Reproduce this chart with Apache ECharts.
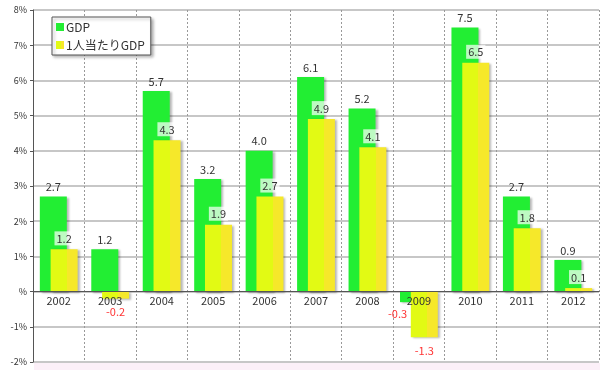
<!DOCTYPE html>
<html><head><meta charset="utf-8">
<script src="https://cdn.jsdelivr.net/npm/echarts@6/dist/echarts.min.js"></script>
<style>html,body{margin:0;padding:0;background:#fff}#c{width:600px;height:370px}</style>
</head><body><div id="c"></div>
<script>
const years = ['2002','2003','2004','2005','2006','2007','2008','2009','2010','2011','2012'];
const gdp = [2.7, 1.2, 5.7, 3.2, 4.0, 6.1, 5.2, -0.3, 7.5, 2.7, 0.9];
const gdpPerCapita = [1.2, -0.2, 4.3, 1.9, 2.7, 4.9, 4.1, -1.3, 6.5, 1.8, 0.1];
const seriesNames = ['GDP', '1人当たりGDP'];
const yTicks = {min: -2, max: 8, interval: 1};

const FONT = '"Noto Sans CJK JP", "Noto Sans", sans-serif';
const shadow = {shadowColor: 'rgba(0,0,0,0.28)', shadowBlur: 2, shadowOffsetX: 2, shadowOffsetY: 1};

const GRID = {left: 33, right: 1, top: 10, bottom: 8};
const CH = 370;
const plotH = CH - GRID.top - GRID.bottom;
const zeroOffset = -plotH * (0 - yTicks.min) / (yTicks.max - yTicks.min);

function mkData(arr, isSecond) {
  return arr.map((v, i) => {
    const d = {value: v};
    if (v < 0) {
      d.label = {position: 'bottom', color: '#ff3333', backgroundColor: 'transparent', distance: 6};
      if (!isSecond) d.label.offset = [-16, 0];
    }
    return d;
  });
}

const chart = echarts.init(document.getElementById('c'));
chart.setOption({
  animation: false,
  textStyle: {fontFamily: FONT},
  grid: Object.assign({containLabel: false}, GRID),
  legend: {
    orient: 'vertical', left: 52, top: 17,
    data: seriesNames,
    itemWidth: 8, itemHeight: 8, itemGap: 6,
    backgroundColor: '#fff', borderColor: '#555', borderWidth: 1,
    padding: [4, 6, 4, 4],
    shadowColor: 'rgba(0,0,0,0.3)', shadowBlur: 3, shadowOffsetX: 2, shadowOffsetY: 2,
    textStyle: {fontSize: 12, color: '#333', fontFamily: FONT, padding: [0, 0, 0, -3]},
    icon: 'rect'
  },
  xAxis: [{
    type: 'category', data: years, z: 10,
    axisLine: {onZero: false, lineStyle: {color: '#555', width: 1}},
    offset: zeroOffset,
    axisTick: {show: false},
    axisLabel: {fontSize: 11, color: '#333', margin: 4},
    splitLine: {show: false}
  }, {
    type: 'category', data: years, position: 'bottom',
    axisLine: {show: false}, axisTick: {show: false}, axisLabel: {show: false},
    splitLine: {show: true, lineStyle: {color: '#999', type: [2, 2], width: 1}}
  }],
  yAxis: {
    type: 'value', min: yTicks.min, max: yTicks.max, interval: yTicks.interval,
    axisLine: {show: true, lineStyle: {color: '#555'}},
    axisTick: {show: true, length: 3, lineStyle: {color: '#555'}},
    axisLabel: {fontSize: 9, color: '#333', margin: 6,
      formatter: v => (v === 0 ? '%' : v + '%')},
    splitLine: {show: true, lineStyle: {color: '#b5b5b5', width: 1.5}}
  },
  graphic: [{
    type: 'rect', left: 34, bottom: 0, shape: {width: 566, height: 7},
    style: {fill: '#fcf0f8'}, z: -1
  }],
  series: [
    {
      name: seriesNames[0], type: 'bar', data: mkData(gdp, false),
      barWidth: 27, barGap: '-60%',
      itemStyle: Object.assign({color: '#22ee33'}, shadow),
      label: {show: true, position: 'top', distance: 4, fontSize: 11, color: '#333',
        formatter: p => p.value.toFixed(1)},
      z: 2
    },
    {
      name: seriesNames[1], type: 'bar', data: mkData(gdpPerCapita, true),
      barWidth: 27,
      itemStyle: Object.assign({
        color: {type: 'linear', x: 0, y: 0, x2: 1, y2: 0, colorStops: [
          {offset: 0, color: '#e2fa14'}, {offset: 0.6, color: '#e2fa14'},
          {offset: 0.6, color: '#f6e82a'}, {offset: 1, color: '#f6e82a'}]}
      }, shadow),
      label: {show: true, position: 'top', distance: 4, fontSize: 11, color: '#333',
        backgroundColor: 'rgba(255,255,255,0.7)', padding: [2, 2, 1, 2],
        formatter: p => p.value.toFixed(1)},
      z: 3
    }
  ]
});
</script></body></html>
